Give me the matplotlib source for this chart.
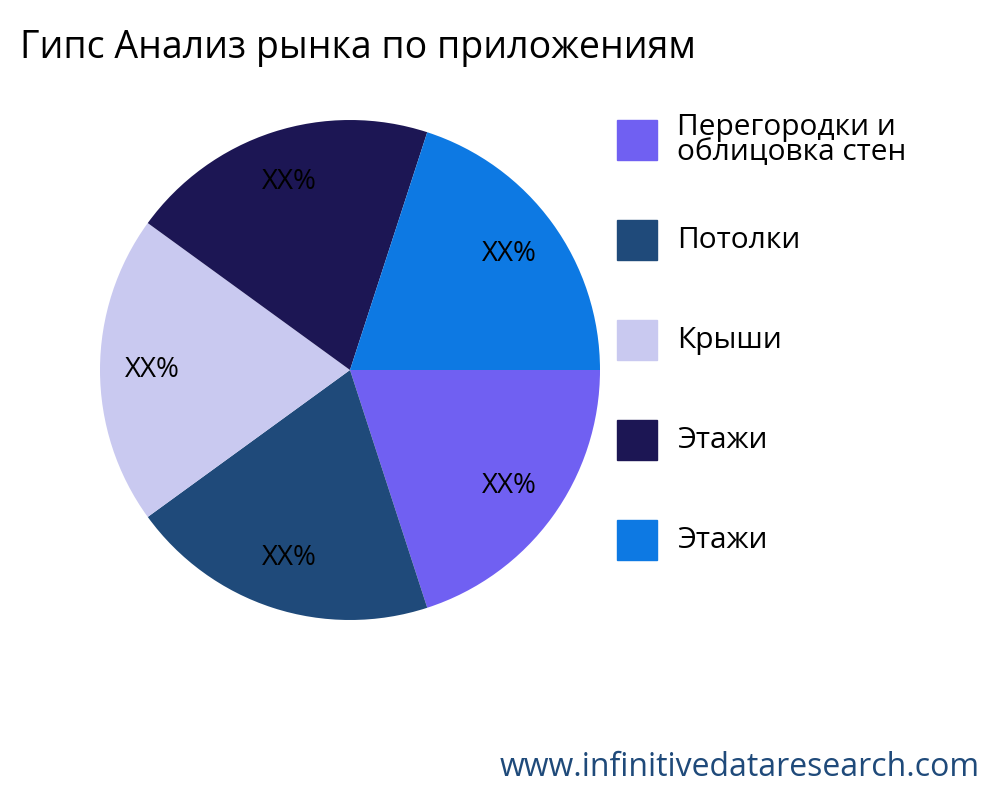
import matplotlib
matplotlib.use("Agg")
import matplotlib.pyplot as plt
import numpy as np

plt.rcParams['font.family'] = ['Open Sans', 'DejaVu Sans']

labels = ["Перегородки и\nоблицовка стен", "Потолки", "Крыши", "Этажи", "Этажи"]
values = [20, 20, 20, 20, 20]
pct_labels = ["XX%"] * 5
colors = ["#7060f2", "#1f4a7a", "#c9c9f0", "#1c1654", "#0d79e3"]

fig = plt.figure(figsize=(10, 8), dpi=100)
ax = fig.add_axes([0.1, 0.225, 0.5, 0.625])
wedges, _ = ax.pie(values, colors=colors, startangle=0, counterclock=False, radius=1)
for w, t in zip(wedges, pct_labels):
    ang = np.deg2rad((w.theta1 + w.theta2) / 2)
    ax.text(0.79 * np.cos(ang), 0.79 * np.sin(ang), t, ha='center', va='center', fontsize=20)
ax.set_xlim(-1, 1); ax.set_ylim(-1, 1); ax.set_aspect('equal')

fig.text(0.02, 0.94, "Гипс Анализ рынка по приложениям", fontsize=27, va='center')

ys = [0.825, 0.70, 0.575, 0.45, 0.325]
for lab, c, y in zip(labels, colors, ys):
    fig.patches.append(plt.Rectangle((0.617, y - 0.025), 0.04, 0.05, color=c, transform=fig.transFigure))
    fig.text(0.677, y, lab, fontsize=21.5, va='center', linespacing=0.85)

fig.text(0.98, 0.04, "www.infinitivedataresearch.com", fontsize=23, color="#1f4a7a", ha='right', va='center')
fig.savefig("out.png")
